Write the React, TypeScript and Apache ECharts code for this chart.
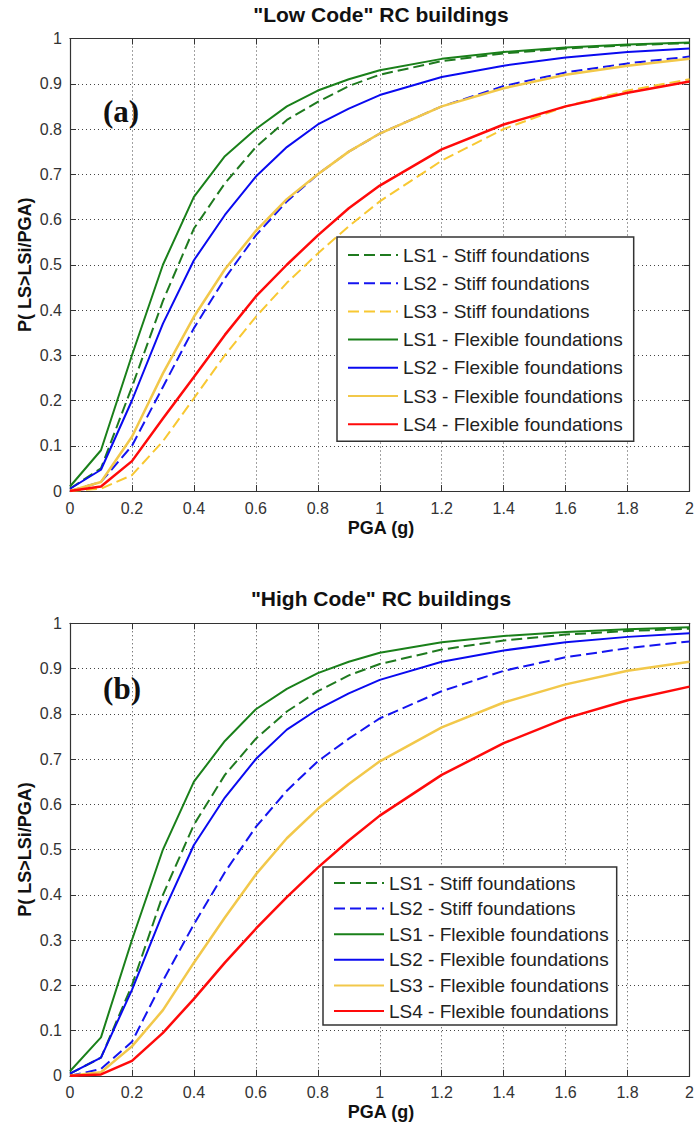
import React, { useEffect, useRef } from "react";
import * as echarts from "echarts";

const PGA = [0, 0.1, 0.2, 0.3, 0.4, 0.5, 0.6, 0.7, 0.8, 0.9, 1.0, 1.2, 1.4, 1.6, 1.8, 2.0];

// (a) Low Code
const A_LS1_STIFF = [0.005, 0.05, 0.23, 0.42, 0.58, 0.68, 0.76, 0.82, 0.86, 0.895, 0.92, 0.95, 0.967, 0.978, 0.985, 0.99];
const A_LS2_STIFF = [0, 0.02, 0.1, 0.23, 0.36, 0.47, 0.565, 0.64, 0.7, 0.75, 0.79, 0.85, 0.895, 0.925, 0.945, 0.96];
const A_LS3_STIFF = [0, 0.005, 0.035, 0.11, 0.205, 0.3, 0.385, 0.46, 0.525, 0.585, 0.64, 0.73, 0.8, 0.85, 0.885, 0.91];
const A_LS1_FLEX = [0.01, 0.09, 0.3, 0.5, 0.65, 0.74, 0.8, 0.85, 0.885, 0.91, 0.93, 0.955, 0.97, 0.98, 0.987, 0.991];
const A_LS2_FLEX = [0.005, 0.047, 0.2, 0.37, 0.51, 0.61, 0.695, 0.76, 0.81, 0.845, 0.875, 0.915, 0.94, 0.958, 0.97, 0.978];
const A_LS3_FLEX = [0, 0.02, 0.12, 0.26, 0.385, 0.49, 0.575, 0.645, 0.7, 0.75, 0.79, 0.85, 0.89, 0.92, 0.94, 0.955];
const A_LS4_FLEX = [0, 0.01, 0.066, 0.16, 0.252, 0.345, 0.43, 0.5, 0.565, 0.625, 0.675, 0.755, 0.81, 0.85, 0.88, 0.905];

// (b) High Code
const B_LS1_STIFF = [0.005, 0.04, 0.2, 0.4, 0.555, 0.665, 0.745, 0.805, 0.85, 0.885, 0.91, 0.942, 0.962, 0.975, 0.983, 0.988];
const B_LS2_STIFF = [0, 0.015, 0.075, 0.21, 0.335, 0.45, 0.55, 0.63, 0.695, 0.745, 0.79, 0.85, 0.895, 0.925, 0.945, 0.96];
const B_LS1_FLEX = [0.01, 0.085, 0.3, 0.5, 0.65, 0.74, 0.81, 0.855, 0.89, 0.915, 0.935, 0.958, 0.972, 0.981, 0.987, 0.991];
const B_LS2_FLEX = [0.005, 0.04, 0.19, 0.36, 0.51, 0.615, 0.7, 0.765, 0.81, 0.845, 0.875, 0.915, 0.94, 0.958, 0.97, 0.978];
const B_LS3_FLEX = [0, 0.008, 0.065, 0.145, 0.25, 0.35, 0.445, 0.525, 0.59, 0.645, 0.695, 0.77, 0.825, 0.865, 0.895, 0.915];
const B_LS4_FLEX = [0, 0.003, 0.033, 0.095, 0.17, 0.25, 0.325, 0.395, 0.46, 0.52, 0.575, 0.665, 0.735, 0.79, 0.83, 0.86];

const NAMES = {
  s1: "LS1 - Stiff foundations",
  s2: "LS2 - Stiff foundations",
  s3: "LS3 - Stiff foundations",
  f1: "LS1 - Flexible foundations",
  f2: "LS2 - Flexible foundations",
  f3: "LS3 - Flexible foundations",
  f4: "LS4 - Flexible foundations",
};

const STYLE: Record<string, any> = {
  s1: { color: "#1f7a1f", width: 2, type: [11, 5] },
  s2: { color: "#1414f0", width: 2, type: [11, 5] },
  s3: { color: "#f8c832", width: 2, type: [11, 5] },
  f1: { color: "#1a801a", width: 2, type: "solid" },
  f2: { color: "#0a0af0", width: 2, type: "solid" },
  f3: { color: "#f2c84a", width: 2.5, type: "solid" },
  f4: { color: "#ff0a0a", width: 2.5, type: "solid" },
};

const FONT = "'Liberation Sans', Arial, sans-serif";

const GRID_LEFT = 70;
const GRID_W = 622;
const GRID_A_TOP = 38.5;
const GRID_B_TOP = 623.3;
const GRID_H = 452.5;

function mk(key: string, vals: number[], xi: number) {
  const st = STYLE[key];
  return {
    type: "line",
    name: NAMES[key as keyof typeof NAMES],
    xAxisIndex: xi,
    yAxisIndex: xi,
    data: PGA.map((x, i) => [x, vals[i]]),
    symbol: "none",
    showSymbol: false,
    smooth: false,
    lineStyle: { color: st.color, width: st.width, type: st.type },
    itemStyle: { color: st.color },
    z: 3,
  };
}

function xAx(grid: number, pos: "bottom" | "top", labels: boolean) {
  return {
    type: "value",
    gridIndex: grid,
    position: pos,
    min: 0,
    max: 2,
    interval: 0.2,
    axisLine: { show: true, onZero: false, lineStyle: { color: "#333", width: 1.2 } },
    axisTick: { show: true, inside: true, length: 6, lineStyle: { color: "#333" } },
    axisLabel: {
      show: labels,
      margin: 9,
      fontSize: 16,
      fontFamily: FONT,
      color: "#333",
      formatter: (v: number) => String(Math.round(v * 10) / 10),
    },
    splitLine: labels
      ? { show: true, lineStyle: { color: "#444", type: [1, 3], width: 1 } }
      : { show: false },
  };
}

function yAx(grid: number, pos: "left" | "right", labels: boolean) {
  return {
    type: "value",
    gridIndex: grid,
    position: pos,
    min: 0,
    max: 1,
    interval: 0.1,
    axisLine: { show: true, onZero: false, lineStyle: { color: "#333", width: 1.2 } },
    axisTick: { show: true, inside: true, length: 6, lineStyle: { color: "#333" } },
    axisLabel: {
      show: labels,
      margin: 8,
      fontSize: 16,
      fontFamily: FONT,
      color: "#333",
      formatter: (v: number) => String(Math.round(v * 10) / 10),
    },
    splitLine: labels
      ? { show: true, lineStyle: { color: "#444", type: [1, 3], width: 1 } }
      : { show: false },
  };
}

export default function App() {
  const ref = useRef<HTMLDivElement>(null);
  useEffect(() => {
    if (!ref.current) return;
    const chart = echarts.init(ref.current, null, { renderer: "svg" });
    const cx = GRID_LEFT + GRID_W / 2;
    const legendText = { fontSize: 19, fontFamily: FONT, color: "#222", lineHeight: 20 };
    const titleStyle = { fontSize: 21, fontWeight: "bold", fontFamily: FONT, fill: "#111", align: "center", verticalAlign: "middle" };
    const nameStyle = { fontSize: 18, fontWeight: "bold", fontFamily: FONT, fill: "#111", align: "center", verticalAlign: "middle" };
    const tagStyle = { fontSize: 31, fontWeight: "bold", fontFamily: "'Liberation Serif', 'Times New Roman', serif", fill: "#111", align: "center", verticalAlign: "middle" };
    chart.setOption({
      animation: false,
      backgroundColor: "#fff",
      grid: [
        { left: GRID_LEFT, top: GRID_A_TOP, width: GRID_W, height: GRID_H, show: false },
        { left: GRID_LEFT, top: GRID_B_TOP, width: GRID_W, height: GRID_H, show: false },
      ],
      xAxis: [xAx(0, "bottom", true), xAx(0, "top", false), xAx(1, "bottom", true), xAx(1, "top", false)],
      yAxis: [yAx(0, "left", true), yAx(0, "right", false), yAx(1, "left", true), yAx(1, "right", false)],
      legend: [
        {
          orient: "vertical",
          left: 337,
          top: 237,
          data: [NAMES.s1, NAMES.s2, NAMES.s3, NAMES.f1, NAMES.f2, NAMES.f3, NAMES.f4],
          itemWidth: 50,
          itemHeight: 14,
          itemGap: 8.2,
          padding: [8, 11, 7, 10],
          borderColor: "#333",
          borderWidth: 1.5,
          backgroundColor: "#fff",
          selectedMode: false,
          itemStyle: { opacity: 0 },
          textStyle: legendText,
          z: 10,
        },
        {
          orient: "vertical",
          left: 323,
          top: 867,
          data: [NAMES.s1, NAMES.s2, NAMES.f1, NAMES.f2, NAMES.f3, NAMES.f4],
          itemWidth: 50,
          itemHeight: 14,
          itemGap: 5.6,
          padding: [6, 8, 4, 10],
          borderColor: "#333",
          borderWidth: 1.5,
          backgroundColor: "#fff",
          selectedMode: false,
          itemStyle: { opacity: 0 },
          textStyle: legendText,
          z: 10,
        },
      ],
      graphic: [
        { type: "text", x: cx, y: 14, style: { text: "\"Low Code\" RC buildings", ...titleStyle } },
        { type: "text", x: cx, y: 598, style: { text: "\"High Code\" RC buildings", ...titleStyle } },
        { type: "text", x: cx, y: 528, style: { text: "PGA (g)", ...nameStyle } },
        { type: "text", x: cx, y: 1112, style: { text: "PGA (g)", ...nameStyle } },
        { type: "text", x: 25, y: GRID_A_TOP + GRID_H / 2, rotation: Math.PI / 2, style: { text: "P( LS>LSi/PGA)", ...nameStyle } },
        { type: "text", x: 25, y: GRID_B_TOP + GRID_H / 2, rotation: Math.PI / 2, style: { text: "P( LS>LSi/PGA)", ...nameStyle } },
        { type: "text", x: 121, y: 111, z: 20, style: { text: "(a)", ...tagStyle } },
        { type: "text", x: 122, y: 688, z: 20, style: { text: "(b)", ...tagStyle } },
      ],
      series: [
        mk("s1", A_LS1_STIFF, 0),
        mk("s2", A_LS2_STIFF, 0),
        mk("s3", A_LS3_STIFF, 0),
        mk("f1", A_LS1_FLEX, 0),
        mk("f2", A_LS2_FLEX, 0),
        mk("f3", A_LS3_FLEX, 0),
        mk("f4", A_LS4_FLEX, 0),
        mk("s1", B_LS1_STIFF, 2),
        mk("s2", B_LS2_STIFF, 2),
        mk("f1", B_LS1_FLEX, 2),
        mk("f2", B_LS2_FLEX, 2),
        mk("f3", B_LS3_FLEX, 2),
        mk("f4", B_LS4_FLEX, 2),
      ],
    });
    return () => chart.dispose();
  }, []);
  return (
    <div
      ref={ref}
      style={{ position: "absolute", left: 0, top: 0, width: 697, height: 1129, background: "#fff" }}
    />
  );
}
